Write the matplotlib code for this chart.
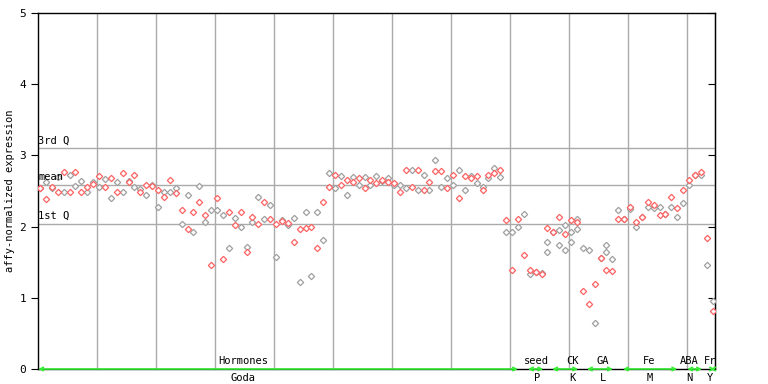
import matplotlib
matplotlib.use("Agg")
import matplotlib.pyplot as plt
import numpy as np

# two replicate values per sample position
red_vals = [
    2.54, 2.39, 2.56, 2.49, 2.76, 2.49, 2.76, 2.49, 2.56, 2.60,
    2.71, 2.56, 2.68, 2.49, 2.75, 2.63, 2.72, 2.49, 2.58, 2.57,
    2.52, 2.41, 2.65, 2.47, 2.23, 1.96, 2.21, 2.34, 2.16, 1.46,
    2.40, 1.55, 2.20, 2.02, 2.20, 1.64, 2.14, 2.03, 2.34, 2.10,
    2.04, 2.08, 2.05, 1.78, 1.96, 1.98, 2.00, 1.70, 2.34, 2.55,
    2.72, 2.58, 2.66, 2.63, 2.68, 2.54, 2.65, 2.61, 2.65, 2.63,
    2.61, 2.49, 2.80, 2.56, 2.79, 2.52, 2.62, 2.78, 2.78, 2.54,
    2.73, 2.40, 2.71, 2.68, 2.71, 2.51, 2.73, 2.75, 2.79, 2.09,
    1.39, 2.10, 1.60, 1.39, 1.36, 1.33, 1.98, 1.93, 2.13, 1.89,
    2.09, 2.07, 1.10, 0.91, 1.19, 1.56, 1.39, 1.37, 2.10, 2.10,
    2.27, 2.07, 2.13, 2.35, 2.30, 2.16, 2.17, 2.41, 2.26, 2.52,
    2.66, 2.73, 2.77, 1.84, 0.82,
]
gray_vals = [
    2.54, 2.63, 2.54, 2.69, 2.49, 2.72, 2.57, 2.64, 2.48, 2.62,
    2.56, 2.67, 2.40, 2.62, 2.49, 2.64, 2.56, 2.53, 2.44, 2.59,
    2.27, 2.49, 2.49, 2.54, 2.03, 2.44, 1.92, 2.57, 2.06, 2.24,
    2.24, 2.16, 1.70, 2.12, 2.00, 1.71, 2.07, 2.41, 2.10, 2.30,
    1.58, 2.09, 2.02, 2.12, 1.22, 2.21, 1.30, 2.20, 1.81, 2.75,
    2.54, 2.71, 2.45, 2.69, 2.59, 2.69, 2.58, 2.71, 2.64, 2.68,
    2.58, 2.58, 2.54, 2.80, 2.52, 2.73, 2.51, 2.93, 2.56, 2.68,
    2.58, 2.79, 2.51, 2.71, 2.61, 2.56, 2.68, 2.82, 2.69, 1.93,
    1.93, 1.99, 2.17, 1.34, 1.36, 1.35, 1.79, 1.93, 1.95, 2.02,
    1.93, 2.10, 1.70, 1.67, 0.64, 1.56, 1.74, 1.54, 2.24, 2.10,
    2.25, 2.00, 2.13, 2.28, 2.26, 2.28, 2.17, 2.28, 2.14, 2.33,
    2.59, 2.73, 2.73, 1.46, 0.95,
]
extra_idx = [86, 88, 89, 90, 91, 96]
extra_vals = [1.64, 1.74, 1.67, 1.79, 1.96, 1.65]

q3_val, mean_val, q1_val = 3.10, 2.58, 2.04

# experiment groups: (upper label, lower label, label pos, arrow start, arrow end)
groups = [
    ("Hormones", "Goda", 34.4, -0.3, 81.0),
    ("seed", "P", 84.2, 82.7, 85.3),
    ("CK", "K", 90.3, 86.8, 91.2),
    ("GA", "L", 95.4, 92.7, 97.1),
    ("Fe", "M", 103.3, 98.8, 108.0),
    ("ABA", "N", 110.0, 109.7, 112.2),
    ("Fr", "Y", 113.6, 113.6, 114.4),
]

RED = "#ff6262"
GRAY = "#a0a0a0"
GRID = "#aaaaaa"
GREEN = "#33ee33"
MONO = "DejaVu Sans Mono"

fig = plt.figure(figsize=(7.68, 3.84), dpi=100)
ax = fig.add_axes([38 / 768, 15 / 384, 677 / 768, 356 / 384])

x = np.arange(len(red_vals))
ax.set_xlim(-0.34, 114.4)
ax.set_ylim(0, 5)

for xv in np.arange(9.6, 114, 10):
    ax.axvline(xv, color=GRID, lw=1, zorder=1)
for yv in (q3_val, mean_val, q1_val):
    ax.axhline(yv, color=GRID, lw=1, zorder=1)

mk = dict(ls="none", marker="D", ms=3.2, mfc="white", mew=0.9)
ax.plot(x, gray_vals, mec=GRAY, zorder=3, **mk)
ax.plot(x, red_vals, mec=RED, zorder=4, **mk)
ax.plot(extra_idx, extra_vals, mec=GRAY, zorder=3, **mk)

for label, yv in (("3rd Q", q3_val), ("mean", mean_val), ("1st Q", q1_val)):
    ax.text(-0.3, yv + 0.04, label, fontsize=7.5, family=MONO, ha="left", va="bottom", zorder=5)

for upper, lower, pos, start, end in groups:
    ax.annotate("", xy=(end, 0.0), xytext=(start, 0.0),
                arrowprops=dict(arrowstyle="<->", color=GREEN, lw=1.2, mutation_scale=6,
                                shrinkA=0, shrinkB=0),
                annotation_clip=False, zorder=6)
    ax.text(pos, 0.04, upper, fontsize=7.5, family=MONO, ha="center", va="bottom")
    ax.text(pos, -0.06, lower, fontsize=7.5, family=MONO, ha="center", va="top", clip_on=False)

ax.set_xticks([])
ax.set_yticks(range(6))
ax.tick_params(axis="y", direction="out", length=5, labelsize=8)
for lab in ax.get_yticklabels():
    lab.set_family(MONO)
sec = ax.secondary_yaxis("right")
sec.set_yticks(range(6))
sec.tick_params(direction="in", length=5, labelright=False)

ax.set_ylabel("affy-normalized expression", fontsize=7.5, family=MONO, labelpad=3)
for sp in ax.spines.values():
    sp.set_color("black")
    sp.set_linewidth(1)

fig.savefig("out.png", dpi=100)
